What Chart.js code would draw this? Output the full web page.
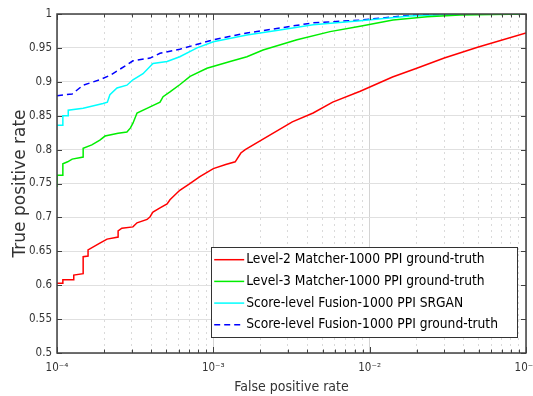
<!DOCTYPE html>
<html>
<head>
<meta charset="utf-8">
<script src="https://cdn.jsdelivr.net/npm/chart.js@4.4.0/dist/chart.umd.min.js"></script>
<style>
html, body { margin: 0; padding: 0; background: #fff; }
#wrap { width: 533px; height: 396px; }
</style>
</head>
<body>
<div id="wrap"><canvas id="roc" width="533" height="396"></canvas></div>
<script>
// values (FPR on log scale)
var l2Fpr = [1e-4, 1.09e-4, 1.09e-4, 1.28e-4, 1.28e-4, 1.47e-4, 1.47e-4, 1.58e-4, 1.58e-4, 1.88e-4, 2.09e-4, 2.46e-4, 2.46e-4, 2.6e-4, 3.06e-4, 3.25e-4, 3.77e-4, 3.94e-4, 4.11e-4, 4.56e-4, 5.06e-4, 5.28e-4, 6.1e-4, 7e-4, 8.2e-4, 1e-3, 1.2e-3, 1.38e-3, 1.5e-3, 1.6e-3, 2.4e-3, 3.2e-3, 4.35e-3, 5.8e-3, 8.7e-3, 1.4e-2, 2e-2, 3e-2, 4.9e-2, 1e-1];
var l2Tpr = [0.603, 0.603, 0.608, 0.608, 0.615, 0.617, 0.642, 0.643, 0.652, 0.662, 0.668, 0.671, 0.680, 0.684, 0.686, 0.692, 0.697, 0.701, 0.708, 0.714, 0.720, 0.726, 0.740, 0.749, 0.760, 0.772, 0.778, 0.782, 0.795, 0.800, 0.824, 0.841, 0.854, 0.870, 0.886, 0.907, 0.920, 0.935, 0.951, 0.972];

var l3Fpr = [1e-4, 1e-4, 1.09e-4, 1.09e-4, 1.17e-4, 1.25e-4, 1.47e-4, 1.47e-4, 1.67e-4, 1.88e-4, 2.03e-4, 2.46e-4, 2.8e-4, 2.95e-4, 3.06e-4, 3.25e-4, 3.94e-4, 4.56e-4, 4.77e-4, 5.28e-4, 6.12e-4, 7.1e-4, 9.1e-4, 1.28e-3, 1.64e-3, 2.08e-3, 3.43e-3, 5.58e-3, 8.69e-3, 1.41e-2, 2.33e-2, 3.79e-2, 1e-1];
var l3Tpr = [0.745, 0.762, 0.762, 0.779, 0.782, 0.786, 0.789, 0.802, 0.807, 0.814, 0.820, 0.824, 0.826, 0.832, 0.839, 0.854, 0.863, 0.870, 0.878, 0.885, 0.896, 0.908, 0.920, 0.930, 0.937, 0.947, 0.962, 0.974, 0.982, 0.991, 0.996, 0.9985, 1.0];

var srFpr = [1e-4, 1.09e-4, 1.09e-4, 1.18e-4, 1.18e-4, 1.47e-4, 1.97e-4, 2.1e-4, 2.18e-4, 2.42e-4, 2.8e-4, 3.06e-4, 3.55e-4, 4.11e-4, 5.06e-4, 6.1e-4, 7.87e-4, 1e-3, 1.64e-3, 2.6e-3, 4.35e-3, 8.7e-3, 1.81e-2, 3.79e-2, 1e-1];
var srTpr = [0.836, 0.836, 0.850, 0.850, 0.858, 0.861, 0.868, 0.870, 0.881, 0.891, 0.895, 0.903, 0.912, 0.927, 0.930, 0.937, 0.950, 0.959, 0.969, 0.976, 0.984, 0.990, 0.997, 1.0, 1.0];

var gtFpr = [1e-4, 1.25e-4, 1.47e-4, 1.88e-4, 2.2e-4, 2.8e-4, 3.06e-4, 3.94e-4, 4.56e-4, 6.1e-4, 1e-3, 1.64e-3, 2.6e-3, 4.35e-3, 8.7e-3, 1.8e-2, 4e-2, 1e-1];
var gtTpr = [0.8795, 0.882, 0.895, 0.903, 0.910, 0.925, 0.931, 0.935, 0.942, 0.948, 0.962, 0.972, 0.979, 0.987, 0.991, 0.998, 1.0, 1.0];

var seriesNames = ['Level-2 Matcher-1000 PPI ground-truth', 'Level-3 Matcher-1000 PPI ground-truth', 'Score-level Fusion-1000 PPI SRGAN', 'Score-level Fusion-1000 PPI ground-truth'];
var yTicks = [0.5, 0.55, 0.6, 0.65, 0.7, 0.75, 0.8, 0.85, 0.9, 0.95, 1];
var xDecades = [1e-4, 1e-3, 1e-2, 1e-1];

var FONT = "'DejaVu Sans Condensed', 'DejaVu Sans', sans-serif";
var SUP = {'-': '\u207B', '1': '\u00B9', '2': '\u00B2', '3': '\u00B3', '4': '\u2074', '5': '\u2075'};

function isDecade(v) {
    var l = Math.log10(v);
    return Math.abs(l - Math.round(l)) < 1e-6;
}

function pts(xs, ys) {
    return xs.map(function (x, i) { return {x: x, y: ys[i]}; });
}

// frame, inward tick marks and the boxed legend inside the axes
var matlabLook = {
    id: 'matlabLook',
    afterDraw: function (chart) {
        var ctx = chart.ctx;
        var a = chart.chartArea;
        var xs = chart.scales.x, ys = chart.scales.y;
        ctx.save();
        ctx.strokeStyle = '#404040';
        ctx.lineWidth = 1;
        ctx.beginPath();
        xs.ticks.forEach(function (t) {
            var px = Math.round(xs.getPixelForValue(t.value)) + 0.5;
            var len = isDecade(t.value) ? 6 : 3.5;
            ctx.moveTo(px, a.bottom); ctx.lineTo(px, a.bottom - len);
            ctx.moveTo(px, a.top); ctx.lineTo(px, a.top + len);
        });
        ys.ticks.forEach(function (t) {
            var py = Math.round(ys.getPixelForValue(t.value)) + 0.5;
            ctx.moveTo(a.left, py); ctx.lineTo(a.left + 5, py);
            ctx.moveTo(a.right, py); ctx.lineTo(a.right - 5, py);
        });
        ctx.stroke();
        ctx.lineWidth = 1.5;
        ctx.strokeRect(a.left, a.top, a.right - a.left, a.bottom - a.top);

        // legend
        ctx.font = '13.7px ' + FONT;
        var ds = chart.data.datasets;
        var tw = 0;
        ds.forEach(function (d) { tw = Math.max(tw, ctx.measureText(d.label).width); });
        var rowH = 21.7;
        var right = a.right - 9, bottom = a.bottom - 16;
        var w = 35 + tw + 19, h = rowH * ds.length + 3;
        var left = right - w, top = bottom - h;
        ctx.fillStyle = '#fff';
        ctx.fillRect(left, top, w, h);
        ctx.strokeStyle = '#333';
        ctx.lineWidth = 1;
        ctx.strokeRect(Math.round(left) + 0.5, Math.round(top) + 0.5, Math.round(w), Math.round(h));
        ds.forEach(function (d, i) {
            var cy = top + 12.5 + i * rowH;
            ctx.strokeStyle = d.borderColor;
            ctx.lineWidth = 1.5;
            ctx.setLineDash(d.borderDash || []);
            ctx.beginPath();
            ctx.moveTo(left + 3, cy); ctx.lineTo(left + 33, cy);
            ctx.stroke();
            ctx.setLineDash([]);
            ctx.fillStyle = '#000';
            ctx.textBaseline = 'middle';
            ctx.textAlign = 'left';
            ctx.fillText(d.label, left + 35, cy);
        });
        ctx.restore();
    }
};

var colors = ['#ff0000', '#00ee00', '#00ffff', '#0000ff'];

new Chart(document.getElementById('roc'), {
    type: 'scatter',
    data: {
        datasets: [
            {label: seriesNames[0], data: pts(l2Fpr, l2Tpr), borderColor: colors[0]},
            {label: seriesNames[1], data: pts(l3Fpr, l3Tpr), borderColor: colors[1]},
            {label: seriesNames[2], data: pts(srFpr, srTpr), borderColor: colors[2]},
            {label: seriesNames[3], data: pts(gtFpr, gtTpr), borderColor: colors[3], borderDash: [6, 4]}
        ].map(function (d) {
            d.showLine = true;
            d.pointRadius = 0;
            d.borderWidth = 1.5;
            d.fill = false;
            return d;
        })
    },
    options: {
        responsive: false,
        animation: false,
        layout: {padding: {top: 14, right: 7, left: 0, bottom: 0}},
        plugins: {legend: {display: false}, tooltip: {enabled: false}},
        scales: {
            x: {
                type: 'logarithmic',
                min: 1e-4,
                max: 1e-1,
                // one tick per 1..9 x decade, labels only on decades
                afterBuildTicks: function (s) {
                    var t = [];
                    xDecades.forEach(function (d, i) {
                        if (i === xDecades.length - 1) { t.push({value: d}); return; }
                        for (var m = 1; m <= 9; m++) t.push({value: m * d});
                    });
                    s.ticks = t;
                },
                border: {
                    display: false,
                    dash: function (c) { return c.tick && !isDecade(c.tick.value) ? [2, 4] : []; }
                },
                grid: {
                    drawTicks: false,
                    color: function (c) { return c.tick && isDecade(c.tick.value) ? '#d4d4d4' : '#dadada'; }
                },
                ticks: {
                    autoSkip: false,
                    maxRotation: 0,
                    padding: 8,
                    color: '#333',
                    font: {family: FONT, size: 11.5},
                    callback: function (v) {
                        if (!isDecade(v)) return '';
                        var e = String(Math.round(Math.log10(v)));
                        return '10' + e.split('').map(function (ch) { return SUP[ch]; }).join('');
                    }
                },
                title: {
                    display: true,
                    text: 'False positive rate',
                    color: '#333',
                    font: {family: FONT, size: 14},
                    padding: {top: 0, bottom: 0}
                },
                afterFit: function (s) { s.height = 43; s.paddingLeft = 0; s.paddingRight = 0; }
            },
            y: {
                min: 0.5,
                max: 1,
                afterBuildTicks: function (s) { s.ticks = yTicks.map(function (v) { return {value: v}; }); },
                border: {display: false},
                grid: {drawTicks: false, color: '#e0e0e0'},
                ticks: {
                    padding: 5,
                    color: '#333',
                    font: {family: FONT, size: 11.5},
                    callback: function (v) { return String(+v.toFixed(2)); }
                },
                title: {
                    display: true,
                    text: 'True positive rate',
                    color: '#333',
                    font: {family: "'DejaVu Sans', sans-serif", size: 17},
                    padding: {top: 10, bottom: 0}
                },
                afterFit: function (s) { s.width = 57; s.paddingTop = 0; s.paddingBottom = 0; }
            }
        }
    },
    plugins: [matlabLook]
});
</script>
</body>
</html>
